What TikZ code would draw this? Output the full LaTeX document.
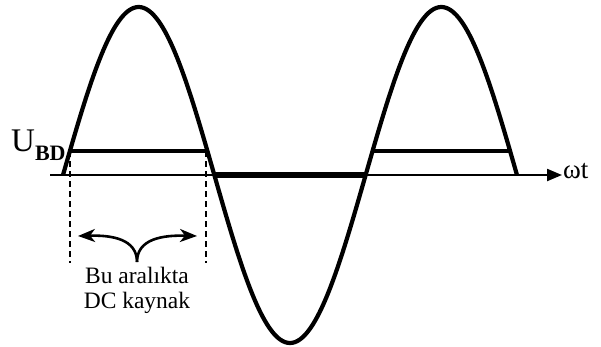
\documentclass[tikz,border=0pt]{standalone}
\usepackage{fontspec}
\setmainfont{Liberation Serif}
\usepackage{tikz}
\usetikzlibrary{arrows.meta, positioning, calc}

\begin{document}
\begin{tikzpicture}[
  x=1pt, y=1pt,
  >=Stealth,
  wave/.style={line width=4.2pt, line join=round},
  axisline/.style={line width=2.2pt},
  level/.style={line width=3.6pt},
  guide/.style={line width=1.8pt, dash pattern=on 6pt off 4pt},
  span/.style={line width=2.6pt, {Stealth[length=17pt,width=13pt,inset=5pt]}-},
  lbl/.style={inner sep=0pt, font=\fontsize{23.5}{25}\selectfont},
]
  \useasboundingbox (0,-171) rectangle (601,175);

  % --- axis --------------------------------------------------------
  \coordinate (ax0) at (50,0);
  \coordinate (ax1) at (562,0);
  \draw[axisline, -{Triangle[length=15pt,width=12pt]}] (ax0) -- (ax1);
  \node[lbl, anchor=base west, font=\fontsize{27}{27}\selectfont] (wt) at (563,-3) {ωt};

  % --- blocked half wave on the axis -------------------------------
  \coordinate (z1) at (213,0);
  \coordinate (z2) at (367,0);
  \draw[line width=6pt] (z1) -- (z2);

  % --- U_BD levels -------------------------------------------------
  \coordinate (a1) at (70,24);
  \coordinate (a2) at (206,24);
  \coordinate (b1) at (374,24);
  \coordinate (b2) at (510,24);
  \draw[level] (a1) -- (a2);
  \draw[level] (b1) -- (b2);
  \node[inner sep=0pt, anchor=base west] (ubd) at (11,24)
    {\fontsize{33}{33}\selectfont U\raisebox{-9pt}{\fontsize{22}{22}\selectfont\bfseries BD}};

  % --- sine --------------------------------------------------------
  \draw[wave] plot[domain=0:540, samples=181, smooth]
    ({63+0.8407*\x},{168*sin(\x)});

  % --- interval marks ----------------------------------------------
  \coordinate (d1) at (70,-88);
  \coordinate (d2) at (206,-88);
  \draw[guide] (a1) -- (d1);
  \draw[guide] (a2) -- (d2);

  \coordinate (cusp) at (137,-87);
  \coordinate (tipL) at (78,-61);
  \coordinate (tipR) at (197,-61);
  \draw[span] (tipL) .. controls (112,-60) and (137,-64) .. (cusp);
  \draw[span] (tipR) .. controls (162,-60) and (137,-64) .. (cusp);

  \node[lbl, align=center, anchor=north] (note) at (137,-92)
    {Bu aralıkta\\DC kaynak};
\end{tikzpicture}
\end{document}
